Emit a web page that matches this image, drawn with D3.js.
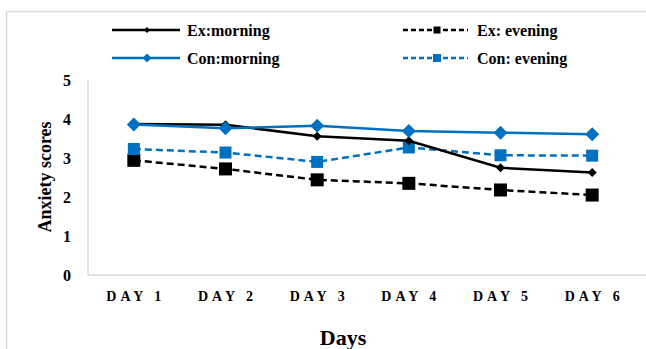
<!DOCTYPE html>
<html><head><meta charset="utf-8">
<script src="https://cdnjs.cloudflare.com/ajax/libs/d3/7.8.5/d3.min.js"></script>
<style>body{margin:0;background:#fff;}svg{display:block;font-family:"Liberation Serif","Times New Roman",serif;}</style>
</head><body><svg id="c" width="646" height="349"></svg>
<script>
const days = ["DAY 1","DAY 2","DAY 3","DAY 4","DAY 5","DAY 6"];
const exMorning = [3.87, 3.85, 3.56, 3.44, 2.75, 2.63];
const exEvening = [2.94, 2.72, 2.44, 2.35, 2.18, 2.05];
const conMorning = [3.86, 3.76, 3.83, 3.69, 3.65, 3.61];
const conEvening = [3.23, 3.14, 2.90, 3.27, 3.07, 3.06];
const yTicks = [0,1,2,3,4,5];

const svg = d3.select("#c");
const blue = "#0070C0";
// frame
svg.append("rect").attr("x",6.5).attr("y",11.5).attr("width",660).attr("height",360)
  .attr("fill","none").attr("stroke","#d9d9d9").attr("stroke-width",1.5);

const x = d3.scaleBand().domain(days).range([88, 638]);
const y = d3.scaleLinear().domain([0,5]).range([275, 80]);

// axes lines
svg.append("line").attr("x1",88).attr("x2",88).attr("y1",y(5)).attr("y2",y(0)).attr("stroke","#d9d9d9").attr("stroke-width",1.5);
svg.append("line").attr("x1",88).attr("x2",646).attr("y1",y(0)).attr("y2",y(0)).attr("stroke","#d9d9d9").attr("stroke-width",1.5);

// y tick labels
svg.selectAll(".yt").data(yTicks).join("text").attr("class","yt")
  .attr("x",67).attr("y",d=>y(d)).attr("dy","0.35em").attr("text-anchor","middle")
  .attr("font-weight","bold").attr("font-size",16).text(d=>d);
// x tick labels
svg.selectAll(".xt").data(days).join("text").attr("class","xt")
  .attr("x",d=>x(d)+x.bandwidth()/2+2).attr("y",296).attr("dy","0.35em").attr("text-anchor","middle")
  .attr("font-weight","bold").attr("font-size",14).attr("letter-spacing","4px").text(d=>d);

// titles
svg.append("text").attr("transform","translate(45,177) rotate(-90)").attr("text-anchor","middle")
  .attr("dy","0.35em").attr("font-weight","bold").attr("font-size",18).text("Anxiety scores");
svg.append("text").attr("x",343).attr("y",337).attr("text-anchor","middle").attr("dy","0.35em")
  .attr("font-weight","bold").attr("font-size",22).text("Days");

const series = [
  {name:"Ex:morning", vals:exMorning, color:"#000", dash:null, marker:"diamond", size:9, lsize:6},
  {name:"Ex: evening", vals:exEvening, color:"#000", dash:"7,4", marker:"square", size:13, lsize:7},
  {name:"Con:morning", vals:conMorning, color:blue, dash:null, marker:"diamond", size:14, lsize:9},
  {name:"Con: evening", vals:conEvening, color:blue, dash:"7,4", marker:"square", size:12, lsize:8}
];
const cx = (i)=> x(days[i]) + x.bandwidth()/2;
const line = d3.line().x((d,i)=>cx(i)).y(d=>y(d));

function drawMarker(g, type, px, py, s, color){
  if(type==="diamond"){
    const h = s/2;
    g.append("path").attr("d",`M${px},${py-h}L${px+h},${py}L${px},${py+h}L${px-h},${py}Z`).attr("fill",color);
  } else {
    g.append("rect").attr("x",px-s/2).attr("y",py-s/2).attr("width",s).attr("height",s).attr("fill",color);
  }
}

[1,3,0,2].forEach(k=>{
  const s = series[k];
  const g = svg.append("g");
  g.append("path").attr("d",line(s.vals)).attr("fill","none").attr("stroke",s.color)
    .attr("stroke-width",2.5).attr("stroke-dasharray",s.dash);
  s.vals.forEach((v,i)=>drawMarker(g,s.marker,cx(i),y(v),s.size,s.color));
});

// legend
const legPos = [[112,30],[403,30],[112,58],[403,58]];
series.forEach((s,k)=>{
  const [lx,ly] = legPos[k];
  const w = k%2===0 ? 68 : 65;
  const g = svg.append("g");
  g.append("line").attr("x1",lx).attr("x2",lx+w).attr("y1",ly).attr("y2",ly).attr("stroke",s.color)
    .attr("stroke-width",2.5).attr("stroke-dasharray",s.dash?"5,3":null);
  drawMarker(g,s.marker,lx+(k%2===0?35:34),ly,s.lsize,s.color);
  g.append("text").attr("x",lx+(k%2===0?75:74)).attr("y",ly).attr("dy","0.35em").attr("font-weight","bold")
    .attr("font-size",16).text(s.name);
});
</script></body></html>
